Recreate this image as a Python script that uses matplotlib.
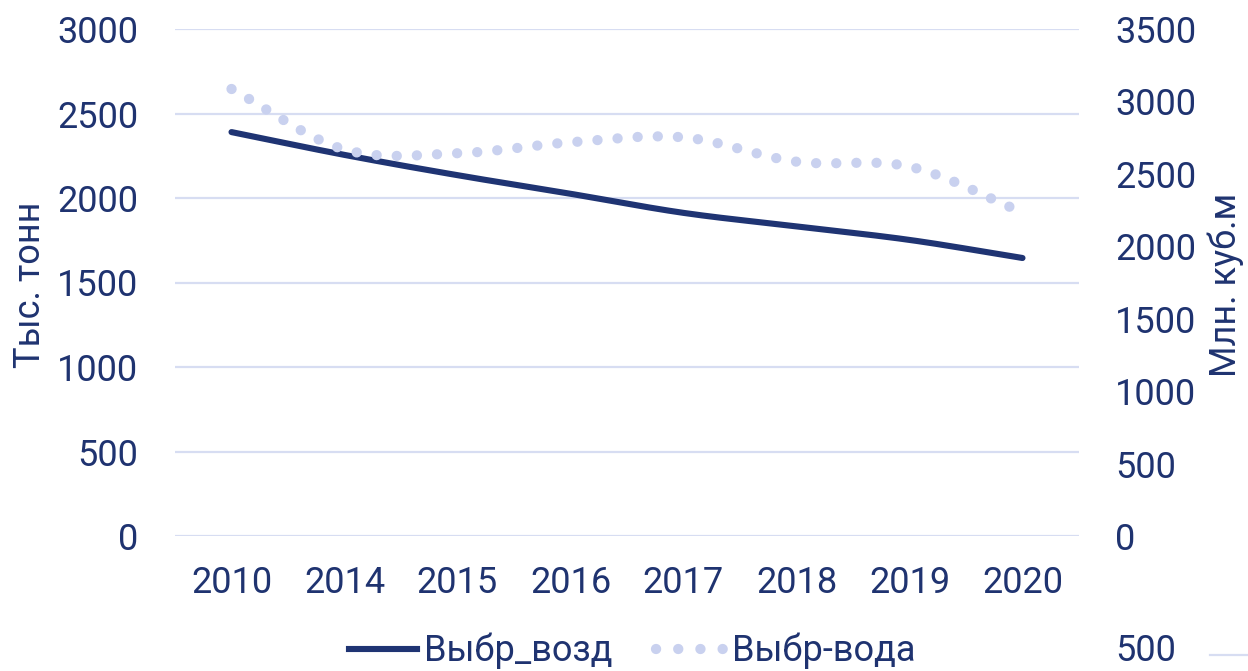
import numpy as np
import matplotlib
matplotlib.use("Agg")
import matplotlib.pyplot as plt
from matplotlib.lines import Line2D

plt.rcParams['font.family'] = ['Roboto', 'DejaVu Sans']

years = ['2010', '2014', '2015', '2016', '2017', '2018', '2019', '2020']
vybr_vozd = [2390, 2255, 2135, 2025, 1912, 1832, 1752, 1645]
vybr_voda = [3086, 2668, 2642, 2718, 2752, 2584, 2550, 2235]

NAVY = '#1f3473'
DOT = '#c9d1ef'
GRID = '#d7ddf2'
TXT = '#1f3370'
FS = 26


def smooth(x, y, n=30):
    x = np.asarray(x, float); y = np.asarray(y, float)
    px = np.concatenate([[2 * x[0] - x[1]], x, [2 * x[-1] - x[-2]]])
    py = np.concatenate([[2 * y[0] - y[1]], y, [2 * y[-1] - y[-2]]])
    xs, ys = [], []
    for i in range(1, len(px) - 2):
        t = np.linspace(0, 1, n, endpoint=False)
        for arr, out in ((px, xs), (py, ys)):
            p0, p1, p2, p3 = arr[i - 1], arr[i], arr[i + 1], arr[i + 2]
            out.append(0.5 * ((2 * p1) + (-p0 + p2) * t + (2 * p0 - 5 * p1 + 4 * p2 - p3) * t ** 2
                              + (-p0 + 3 * p1 - 3 * p2 + p3) * t ** 3))
    xs.append([x[-1]]); ys.append([y[-1]])
    return np.concatenate(xs), np.concatenate(ys)


fig = plt.figure(figsize=(12.48, 6.71), dpi=100)
ax = fig.add_axes([175 / 1248, (671 - 536) / 671, (1079 - 175) / 1248, (536 - 29) / 671])
ax2 = ax.twinx()

xi = np.arange(len(years))
sx, sy = smooth(xi, vybr_vozd)
ax.plot(sx, sy, color=NAVY, lw=4.4, solid_capstyle='round', zorder=3)
wx, wy = smooth(xi, vybr_voda)
ax2.plot(wx, wy, color=DOT, lw=7.4, linestyle=(0, (0.01, 1.95)), dash_capstyle='round', zorder=3)

ax.set_xlim(-0.5, len(years) - 0.5)
ax.set_ylim(0, 3000)
ax2.set_ylim(0, 3500)
ax.set_yticks(range(0, 3001, 500))
ax2.set_yticks(range(0, 3501, 500))
ax.set_xticks(xi)
ax.set_xticklabels(years)
ax.grid(axis='y', color=GRID, lw=1.6)
ax.set_axisbelow(True)

for a in (ax, ax2):
    for s in a.spines.values():
        s.set_visible(False)
ax.tick_params(axis='y', length=0, pad=26.5, labelsize=FS, labelcolor=TXT)
ax.tick_params(axis='x', length=0, pad=21, labelsize=FS, labelcolor=TXT)
ax2.tick_params(axis='y', length=0, pad=26, labelsize=FS, labelcolor=TXT)

fig.text(30 / 1248, 1 - 285 / 671, 'Тыс. тонн', fontsize=FS, color=TXT, rotation=90,
         ha='center', va='center')
fig.text(1226 / 1248, 1 - 285 / 671, 'Млн. куб.м', fontsize=FS, color=TXT, rotation=90,
         ha='center', va='center')

handles = [Line2D([], [], color=NAVY, lw=4.4),
           Line2D([], [], color=DOT, lw=7.4, linestyle=(0, (0.01, 2.15)), dash_capstyle='round')]
fig.legend(handles, ['Выбр_возд', 'Выбр-вода'], loc='center', bbox_to_anchor=(632 / 1248, 1 - 651 / 671),
           ncol=2, frameon=False, fontsize=FS, labelcolor=TXT, handlelength=1.9, handletextpad=0.2,
           columnspacing=1.2)

fig.text(1115 / 1248, 1 - 651 / 671, '500', fontsize=FS, color=TXT, ha='left', va='center')
fig.add_artist(Line2D([1210 / 1248, 1.0], [1 - 655 / 671] * 2, color=GRID, lw=1.6, transform=fig.transFigure))

fig.savefig('out.png', dpi=100)
